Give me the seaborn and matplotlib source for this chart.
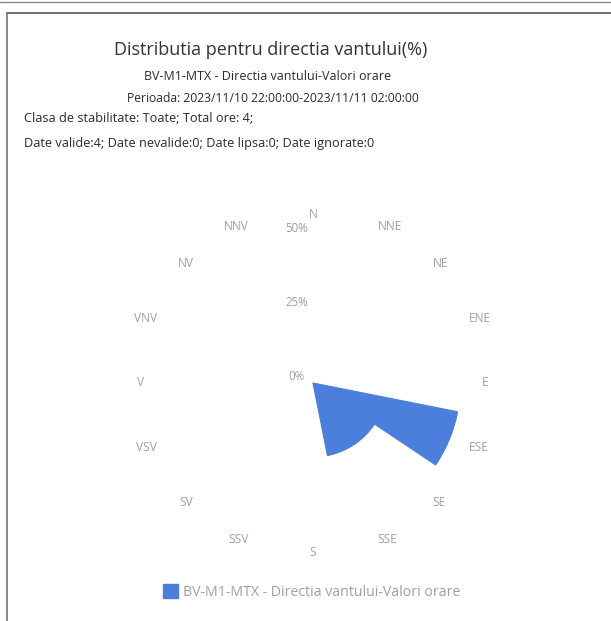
import numpy as np
import matplotlib
matplotlib.use('Agg')
import matplotlib.pyplot as plt
import seaborn as sns
from matplotlib.lines import Line2D

# Data
directions = ['N', 'NNE', 'NE', 'ENE', 'E', 'ESE', 'SE', 'SSE',
              'S', 'SSV', 'SV', 'VSV', 'V', 'VNV', 'NV', 'NNV']
frequency = [0, 0, 0, 0, 0, 50, 25, 25, 0, 0, 0, 0, 0, 0, 0, 0]
radial_ticks = [0, 25, 50]
radial_labels = ['0%', '25%', '50%']
series_name = 'BV-M1-MTX - Directia vantului-Valori orare'

title = 'Distributia pentru directia vantului(%)'
subtitle1 = 'BV-M1-MTX - Directia vantului-Valori orare'
subtitle2 = 'Perioada: 2023/11/10 22:00:00-2023/11/11 02:00:00'
info1 = 'Clasa de stabilitate: Toate; Total ore: 4;'
info2 = 'Date valide:4; Date nevalide:0; Date lipsa:0; Date ignorate:0'

sns.set_style('white')
plt.rcParams['font.family'] = ['Open Sans', 'DejaVu Sans']

W, H = 611, 621
fig = plt.figure(figsize=(W / 100, H / 100), dpi=100)
fig.patch.set_facecolor('white')

bar_color = '#4c7edb'
label_color = '#a0a0a0'
text_color = '#2b2b2b'

# polar area, centre at (313, 383) px, 50% radius 148 px
cx, cy, R = 313, 383, 148
ax = fig.add_axes([(cx - R) / W, (H - cy - R) / H, 2 * R / W, 2 * R / H],
                  projection='polar')
ax.set_theta_zero_location('N')
ax.set_theta_direction(-1)
ax.set_ylim(0, 50)

theta = np.deg2rad(np.arange(len(directions)) * 360 / len(directions))
width = 2 * np.pi / len(directions)
ax.bar(theta, frequency, width=width, align='center', color=bar_color,
       edgecolor=bar_color, linewidth=0.8)

ax.grid(False)
ax.set_xticks([])
ax.set_yticks([])
ax.spines['polar'].set_visible(False)
ax.patch.set_alpha(0)

# direction labels (left/right anchored like the original)
for t, lab in zip(theta, directions):
    s = np.sin(t)
    ha = 'left' if s > 0.01 else ('right' if s < -0.01 else 'center')
    ax.text(t, 50 * 169 / 148, lab, ha=ha, va='center',
            fontsize=8.6, color=label_color, clip_on=False)

# radial labels
for r, lab in zip(radial_ticks, radial_labels):
    ax.annotate(lab, xy=(0, r), xytext=(-12, 4.5), textcoords='offset points',
                ha='center', va='center', fontsize=8.3, color=label_color,
                annotation_clip=False)

# titles
fig.text(271 / W, 1 - 50 / H, title, ha='center', va='center',
         fontsize=13, color='#333333')
fig.text(268 / W, 1 - 76 / H, subtitle1, ha='center', va='center',
         fontsize=9, color=text_color)
fig.text(273 / W, 1 - 98 / H, subtitle2, ha='center', va='center',
         fontsize=8.7, color=text_color)
fig.text(24 / W, 1 - 119 / H, info1, ha='left', va='center',
         fontsize=9.2, color=text_color)
fig.text(24 / W, 1 - 144 / H, info2, ha='left', va='center',
         fontsize=9.2, color=text_color)

# legend
handle = plt.Rectangle((0, 0), 1, 1, color=bar_color)
fig.legend([handle], [series_name], loc='center', bbox_to_anchor=(312 / W, 1 - 592 / H),
           frameon=False, fontsize=10.2, labelcolor=label_color,
           handlelength=1.0, handleheight=1.1, handletextpad=0.4)

# page frame
fig.add_artist(Line2D([7 / W, 1], [1 - 13 / H, 1 - 13 / H], color='#555555', lw=1.2))
fig.add_artist(Line2D([0, 1], [1 - 1.5 / H, 1 - 1.5 / H], color='#888888', lw=1.0))
fig.add_artist(Line2D([7 / W, 7 / W], [0, 1 - 13 / H], color='#777777', lw=1.2))

fig.savefig('out.png', dpi=100)
